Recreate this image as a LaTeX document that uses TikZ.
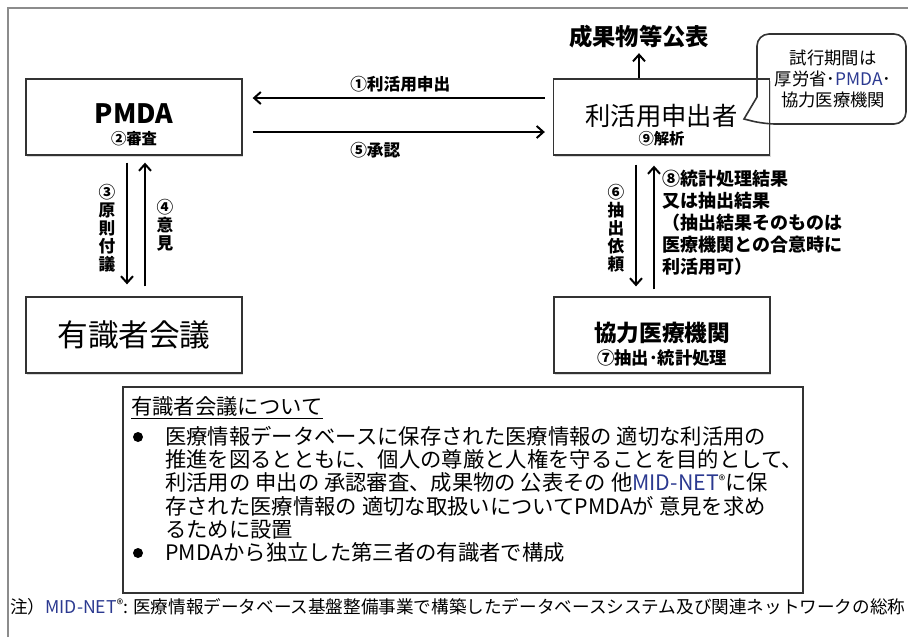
\documentclass[tikz,border=0pt]{standalone}
\usepackage{fontspec}
\setmainfont{Noto Sans CJK JP}
\usetikzlibrary{calc}
\usetikzlibrary{arrows.meta}
\usetikzlibrary{shadows}
\definecolor{framegray}{HTML}{8C8C8C}
\definecolor{boxline}{HTML}{333333}
\definecolor{latinblue}{HTML}{2B3990}
\newcommand{\regmark}{\raisebox{0.45ex}{\fontsize{10}{10}\selectfont ®}}

\begin{document}
\begin{tikzpicture}[x=0.75pt,y=-0.75pt,
   box/.style={draw=boxline,line width=1pt,minimum width=162pt,minimum height=57pt,fill=white,
     drop shadow={shadow xshift=1pt,shadow yshift=-1.5pt,opacity=.3}},
   flow/.style={line width=1.5pt,-{Straight Barb[length=5pt,width=9pt]}},
   tag/.style={font=\fontsize{12.5}{13.5}\selectfont\bfseries,inner sep=0pt},
   vtag/.style={tag,align=center}]
\useasboundingbox (0,0) rectangle (908,637);
\draw[framegray,line width=1.5pt] (8,637) -- (8,8) -- (908,8);

\node[box] (pmda) at (134,117) {};
\node[font=\fontsize{20}{20}\selectfont\bfseries] (pmdaName) at (134,114) {PMDA};
\node[font=\fontsize{11.5}{12}\selectfont\bfseries] (pmdaStep) at (134,139) {②審査};

\node[box] (user) at (661.5,117) {};
\node[font=\fontsize{19}{19}\selectfont] (userName) at (661.5,116) {利活用申出者};
\node[font=\fontsize{11.5}{12}\selectfont\bfseries] (userStep) at (661.5,139) {⑨解析};

\node[box,font=\fontsize{23}{23}\selectfont] (board) at (134,335) {有識者会議};

\node[box] (hosp) at (662,335) {};
\node[font=\fontsize{17}{17}\selectfont\bfseries] (hospName) at (662,333) {協力医療機関};
\node[font=\fontsize{13}{14}\selectfont\bfseries] (hospStep) at (662,358) {⑦抽出･統計処理};

\node[font=\fontsize{17.5}{17.5}\selectfont\bfseries] (publish) at (639,37) {成果物等公表};
\draw[flow] (user.north -| publish) -- (publish.south);

\draw[flow] ($(user.west)+(-8,-19)$) -- ($(pmda.east)+(10,-19)$);
\draw[flow] ($(pmda.east)+(10,15)$) -- ($(user.west)+(-8,15)$);
\node[tag,anchor=west] (applyTag) at (350,84) {①利活用申出};
\node[tag,anchor=west] (approveTag) at (350,150) {⑤承認};

\draw[flow] ($(pmda.south)+(-7,7)$) -- ($(board.north)+(-7,-12)$);
\draw[flow] ($(board.north)+(11,-10)$) -- ($(pmda.south)+(11,7)$);
\node[vtag] (referTag) at (107,228) {③\\原\\則\\付\\議};
\node[vtag] (opinionTag) at (165,225) {④\\意\\見};

\draw[flow] ($(user.south)+(-25.5,9)$) -- ($(hosp.north)+(-26,-10)$);
\draw[flow] ($(hosp.north)+(-8,-7)$) -- ($(user.south)+(-7.5,10)$);
\node[vtag] (requestTag) at (616,228) {⑥\\抽\\出\\依\\頼};
\node[tag,align=left,anchor=north west,font=\fontsize{13.5}{16.5}\selectfont\bfseries] (resultTag) at (662,170)
  {⑧統計処理結果\\又は抽出結果\\（抽出結果そのものは\\医療機関との合意時に\\利活用可）};

\draw[boxline,line width=1.2pt] (757,97) [rounded corners=9pt] -- (757,34) -- (906,34) -- (906,124) -- (764,124)
  [sharp corners] -- (744,119) -- cycle;
\node[align=center,font=\fontsize{13}{15.75}\selectfont] (trialNote) at (833,79)
  {試行期間は\\厚労省･\textcolor{latinblue}{PMDA}･\\協力医療機関};

\node[draw=boxline,line width=1pt,minimum width=510pt,minimum height=154.5pt] (aboutBox) at (463,490) {};
\node[anchor=west,inner sep=0pt,font=\fontsize{16}{17.25}\selectfont] (aboutHead) at (131,408) {\underline{有識者会議について}};
\node[circle,fill,inner sep=0pt,minimum size=7.5pt] (dotA) at (138,437) {};
\node[anchor=north west,align=left,inner sep=0pt,font=\fontsize{16}{17.4}\selectfont] (aboutA) at (165,426)
  {医療情報データベースに保存された医療情報の 適切な利活用の\\
   推進を図るとともに、個人の尊厳と人権を守ることを目的として、\\
   利活用の 申出の 承認審査、成果物の 公表その 他\textcolor{latinblue}{MID-NET}\regmark に保\\
   存された医療情報の 適切な取扱いについてPMDAが 意見を求め\\
   るために設置};
\node[circle,fill,inner sep=0pt,minimum size=7.5pt] (dotB) at (138,553) {};
\node[anchor=north west,inner sep=0pt,font=\fontsize{16}{17.25}\selectfont] (aboutB) at (165,542)
  {PMDAから独立した第三者の有識者で構成};

\node[anchor=west,inner sep=0pt,font=\fontsize{13.2}{14}\selectfont] (netNote) at (10,607)
  {注）\textcolor{latinblue}{MID-NET}\regmark: 医療情報データベース基盤整備事業で構築したデータベースシステム及び関連ネットワークの総称};
\end{tikzpicture}
\end{document}
